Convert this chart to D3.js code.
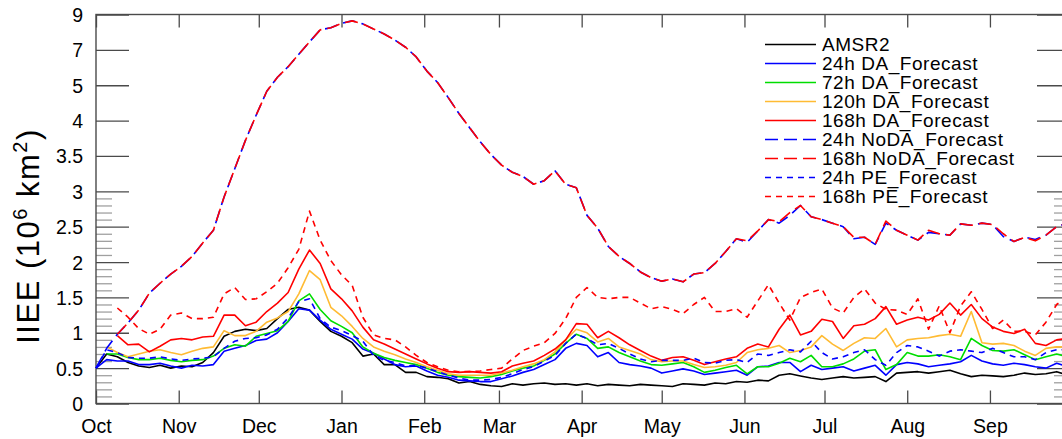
<!DOCTYPE html>
<html>
<head>
<meta charset="utf-8">
<script src="https://cdn.jsdelivr.net/npm/d3@7"></script>
<style>
  body { margin: 0; background: #fff; }
  svg { display: block; }
  text { font-family: "Liberation Sans", Arial, Helvetica, sans-serif; fill: #000; }
</style>
</head>
<body>
<svg id="chart" width="1062" height="439"></svg>
<script>
// Daily sample index (days after 1 October), one value every 4 days
const dayIndex = d3.range(0, 365, 4);

// IIEE (10^6 km^2) per series
const amsr2 = [
  0.50,0.70,0.66,0.58,0.53,0.51,0.54,0.50,0.53,0.52,
  0.58,0.72,0.95,1.02,1.05,1.03,1.06,1.20,1.33,1.36,
  1.32,1.16,1.02,0.95,0.86,0.67,0.70,0.55,0.55,0.44,
  0.44,0.38,0.37,0.35,0.29,0.31,0.27,0.25,0.24,0.28,
  0.26,0.28,0.29,0.27,0.28,0.26,0.28,0.25,0.27,0.26,
  0.25,0.27,0.26,0.25,0.24,0.28,0.27,0.26,0.29,0.28,
  0.31,0.30,0.33,0.32,0.40,0.42,0.39,0.36,0.34,0.36,
  0.38,0.36,0.37,0.38,0.31,0.43,0.44,0.45,0.43,0.45,
  0.47,0.42,0.38,0.40,0.39,0.38,0.40,0.43,0.41,0.42,
  0.45,0.40];

const da24 = [
  0.50,0.62,0.60,0.60,0.55,0.55,0.57,0.53,0.50,0.54,
  0.53,0.55,0.74,0.78,0.82,0.89,0.91,1.00,1.16,1.34,
  1.32,1.18,1.05,0.98,0.91,0.77,0.71,0.63,0.55,0.52,
  0.53,0.46,0.40,0.37,0.33,0.32,0.31,0.31,0.35,0.39,
  0.44,0.48,0.55,0.62,0.78,0.85,0.82,0.66,0.72,0.58,
  0.55,0.53,0.50,0.43,0.46,0.49,0.46,0.41,0.43,0.45,
  0.47,0.40,0.52,0.53,0.58,0.58,0.45,0.54,0.48,0.50,
  0.52,0.46,0.50,0.54,0.40,0.55,0.58,0.56,0.52,0.54,
  0.56,0.59,0.68,0.60,0.56,0.54,0.57,0.55,0.52,0.50,
  0.57,0.52];

const da72 = [
  null,0.70,0.70,0.65,0.62,0.62,0.64,0.61,0.59,0.61,
  0.62,0.67,0.78,0.83,0.81,0.95,0.99,1.03,1.16,1.45,
  1.55,1.33,1.17,1.09,1.00,0.80,0.71,0.65,0.61,0.58,
  0.55,0.50,0.44,0.40,0.38,0.37,0.36,0.38,0.41,0.46,
  0.50,0.53,0.61,0.70,0.85,0.98,0.92,0.78,0.80,0.72,
  0.66,0.60,0.55,0.54,0.56,0.58,0.52,0.44,0.47,0.51,
  0.54,0.42,0.52,0.52,0.57,0.64,0.59,0.68,0.52,0.52,
  0.56,0.63,0.74,0.76,0.48,0.55,0.72,0.67,0.67,0.69,
  0.66,0.62,0.92,0.82,0.75,0.74,0.76,0.69,0.62,0.66,
  0.70,0.66];

const da120 = [
  null,0.80,0.72,0.66,0.70,0.74,0.76,0.72,0.69,0.74,
  0.78,0.80,1.03,0.96,0.96,1.02,1.15,1.21,1.30,1.55,
  1.88,1.75,1.36,1.24,1.09,0.92,0.80,0.74,0.69,0.63,
  0.58,0.52,0.47,0.42,0.40,0.40,0.40,0.40,0.43,0.47,
  0.52,0.56,0.62,0.73,0.90,1.05,1.00,0.87,0.92,0.80,
  0.75,0.70,0.62,0.59,0.60,0.60,0.55,0.51,0.52,0.54,
  0.58,0.72,0.76,0.78,0.82,0.72,0.75,0.80,0.96,0.84,
  0.75,0.85,0.93,0.92,1.06,0.80,0.90,0.92,0.93,0.96,
  0.98,0.95,1.30,0.86,0.84,0.85,0.82,0.74,0.68,0.78,
  0.80,0.80];

const da168 = [
  null,null,0.96,0.83,0.84,0.73,0.81,0.90,0.92,0.90,
  0.94,0.95,1.25,1.25,1.10,1.15,1.30,1.42,1.57,1.90,
  2.17,1.98,1.62,1.48,1.31,1.08,0.90,0.84,0.77,0.70,
  0.63,0.56,0.50,0.45,0.44,0.45,0.44,0.43,0.45,0.53,
  0.57,0.60,0.68,0.77,0.90,1.13,1.12,0.93,1.02,0.93,
  0.83,0.75,0.67,0.61,0.65,0.66,0.61,0.55,0.59,0.63,
  0.66,0.78,0.84,0.80,1.05,1.25,0.97,1.02,1.19,1.16,
  0.92,1.10,1.12,1.20,1.37,1.12,1.18,1.22,1.18,1.26,
  1.42,1.25,1.40,1.20,1.08,1.02,0.99,1.05,0.85,0.82,
  0.90,0.92];

const noda24 = [
  0.50,0.78,0.98,1.14,1.32,1.56,1.70,1.83,1.94,2.08,
  2.27,2.45,2.92,3.32,3.72,4.15,4.83,5.45,6.05,6.75,
  7.45,8.13,8.25,8.50,8.64,8.47,8.18,7.90,7.55,7.15,
  6.60,5.80,5.15,4.65,4.20,3.90,3.70,3.52,3.37,3.27,
  3.21,3.10,3.15,3.29,3.10,3.05,2.66,2.48,2.22,2.08,
  1.98,1.86,1.78,1.73,1.76,1.72,1.83,1.85,1.98,2.15,
  2.33,2.28,2.44,2.60,2.55,2.66,2.80,2.64,2.60,2.55,
  2.50,2.33,2.35,2.25,2.55,2.45,2.38,2.31,2.42,2.40,
  2.38,2.54,2.52,2.55,2.53,2.36,2.29,2.35,2.32,2.38,
  2.50,2.55];

const noda168 = [
  null,null,0.98,1.14,1.32,1.56,1.70,1.83,1.94,2.08,
  2.27,2.45,2.92,3.32,3.72,4.15,4.83,5.45,6.05,6.75,
  7.45,8.13,8.25,8.50,8.64,8.47,8.18,7.90,7.55,7.15,
  6.60,5.80,5.15,4.65,4.20,3.90,3.70,3.52,3.37,3.27,
  3.21,3.10,3.15,3.29,3.10,3.05,2.66,2.48,2.22,2.08,
  1.98,1.86,1.78,1.73,1.76,1.72,1.83,1.85,1.98,2.15,
  2.33,2.30,2.44,2.60,2.57,2.70,2.80,2.64,2.60,2.55,
  2.50,2.35,2.35,2.25,2.58,2.45,2.38,2.31,2.45,2.40,
  2.38,2.54,2.52,2.55,2.53,2.40,2.29,2.35,2.30,2.38,
  2.50,2.55];

const pe24 = [
  0.50,0.76,0.72,0.65,0.64,0.64,0.66,0.63,0.61,0.63,
  0.64,0.66,0.78,0.88,0.92,0.93,0.97,1.05,1.21,1.44,
  1.48,1.20,1.08,1.03,0.96,0.88,0.68,0.61,0.58,0.53,
  0.54,0.50,0.45,0.40,0.36,0.33,0.33,0.34,0.37,0.42,
  0.48,0.52,0.60,0.68,0.85,0.98,0.92,0.83,0.85,0.78,
  0.70,0.63,0.59,0.61,0.61,0.61,0.64,0.58,0.57,0.61,
  0.62,0.58,0.70,0.68,0.72,0.76,0.73,0.88,0.72,0.63,
  0.66,0.72,0.76,0.62,0.54,0.72,0.82,0.80,0.74,0.67,
  0.74,0.76,0.74,0.72,0.78,0.72,0.66,0.66,0.62,0.72,
  0.76,0.76];

const pe168 = [
  null,null,1.35,1.22,1.06,0.98,1.05,1.25,1.28,1.20,
  1.20,1.22,1.55,1.64,1.47,1.48,1.58,1.70,1.92,2.18,
  2.72,2.31,2.02,1.82,1.67,1.22,0.97,0.92,0.90,0.80,
  0.68,0.58,0.52,0.47,0.45,0.45,0.46,0.48,0.50,0.63,
  0.75,0.81,0.86,0.99,1.20,1.50,1.64,1.50,1.48,1.50,
  1.50,1.42,1.34,1.37,1.33,1.27,1.40,1.50,1.30,1.30,
  1.34,1.22,1.45,1.68,1.42,1.18,1.50,1.57,1.62,1.35,
  1.28,1.50,1.62,1.42,1.33,1.32,1.26,1.48,1.05,1.38,
  1.00,1.38,1.58,1.33,1.06,1.18,1.02,1.02,0.97,1.15,
  1.40,1.50];

const seriesNames = ["AMSR2", "24h DA_Forecast", "72h DA_Forecast", "120h DA_Forecast",
  "168h DA_Forecast", "24h NoDA_Forecast", "168h NoDA_Forecast", "24h PE_Forecast", "168h PE_Forecast"];
const seriesValues = [amsr2, da24, da72, da120, da168, noda24, noda168, pe24, pe168];
const seriesColors = ["#000000", "#0000ff", "#00dd00", "#ffbb33", "#ff0000", "#0000ff", "#ff0000", "#0000ff", "#ff0000"];
const seriesDash = [null, null, null, null, null, "13,6", "13,6", "6,5", "6,5"];

const monthLabels = ["Oct","Nov","Dec","Jan","Feb","Mar","Apr","May","Jun","Jul","Aug","Sep"];
const yTicks = [0, 0.5, 1, 1.5, 2, 2.5, 3, 3.5, 4, 5, 7, 9];
const yTickLabels = ["0","0.5","1","1.5","2","2.5","3","3.5","4","5","7","9"];
const yMinor = d3.range(1, 30).filter(i => i % 5 !== 0).map(i => i / 10);

// ---- layout ----
const plotLeft = 96, plotRight = 1070, plotTop = 14.5, plotBottom = 403.5;
const startDate = new Date(Date.UTC(2018, 9, 1));
const endDate = new Date(Date.UTC(2019, 9, 1));
const dayToDate = d => d3.utcDay.offset(startDate, d);

const x = d3.scaleUtc().domain([startDate, endDate]).range([plotLeft, plotRight]);
// piecewise scale: each labelled tick takes an equal vertical step
const yStep = (plotBottom - plotTop) / (yTicks.length - 1);
const y = d3.scaleLinear().domain(yTicks).range(yTicks.map((d, i) => plotBottom - i * yStep));

const svg = d3.select("#chart");
const monthTicks = d3.utcMonth.range(startDate, endDate);

const axisColor = "#4a4a4a";
const minorColor = "#a0a0a0";
const labelSize = 19.5;

function styleAxis(g, color) {
  g.select(".domain").remove();
  g.selectAll(".tick line").attr("stroke", color).attr("stroke-width", 1.3);
  g.selectAll(".tick text").attr("font-size", labelSize).attr("fill", "#000");
}

// minor y ticks (left and right)
svg.append("g").attr("transform", `translate(${plotLeft},0)`)
  .call(d3.axisLeft(y).tickValues(yMinor).tickSize(-16).tickFormat(""))
  .call(g => styleAxis(g, minorColor));
svg.append("g").attr("transform", `translate(${plotRight},0)`)
  .call(d3.axisRight(y).tickValues(yMinor).tickSize(-16).tickFormat(""))
  .call(g => styleAxis(g, minorColor));

// major y ticks
svg.append("g").attr("transform", `translate(${plotLeft},0)`)
  .call(d3.axisLeft(y).tickValues(yTicks).tickSize(-33).tickPadding(13)
    .tickFormat((d, i) => yTickLabels[i]))
  .call(g => styleAxis(g, axisColor))
  .call(g => g.selectAll(".tick text").attr("dy", "0.36em"));
svg.append("g").attr("transform", `translate(${plotRight},0)`)
  .call(d3.axisRight(y).tickValues(yTicks).tickSize(-33).tickFormat(""))
  .call(g => styleAxis(g, axisColor));

// x ticks (bottom with labels, top mirrored)
svg.append("g").attr("transform", `translate(0,${plotBottom})`)
  .call(d3.axisBottom(x).tickValues(monthTicks).tickSize(-13).tickPadding(16)
    .tickFormat((d, i) => monthLabels[i]))
  .call(g => styleAxis(g, axisColor));
svg.append("g").attr("transform", `translate(0,${plotTop})`)
  .call(d3.axisTop(x).tickValues(monthTicks).tickSize(-13).tickFormat(""))
  .call(g => styleAxis(g, axisColor));

// frame
svg.append("rect")
  .attr("x", plotLeft).attr("y", plotTop)
  .attr("width", plotRight - plotLeft).attr("height", plotBottom - plotTop)
  .attr("fill", "none").attr("stroke", axisColor).attr("stroke-width", 1.4);

// data lines
const line = d3.line()
  .defined(d => d.v != null)
  .x(d => x(dayToDate(d.day)))
  .y(d => y(d.v));

seriesValues.forEach((vals, k) => {
  const pts = dayIndex.map((day, i) => ({ day, v: vals[i] }));
  svg.append("path")
    .datum(pts)
    .attr("d", line)
    .attr("fill", "none")
    .attr("stroke", seriesColors[k])
    .attr("stroke-width", 1.6)
    .attr("stroke-linejoin", "round")
    .attr("stroke-dasharray", seriesDash[k]);
});

// legend
const legend = svg.append("g").attr("transform", "translate(765,44.5)");
seriesNames.forEach((name, k) => {
  const row = legend.append("g").attr("transform", `translate(0,${k * 19})`);
  row.append("line")
    .attr("x1", 0).attr("x2", 51).attr("y1", 0).attr("y2", 0)
    .attr("stroke", seriesColors[k]).attr("stroke-width", 1.6)
    .attr("stroke-dasharray", seriesDash[k]);
  row.append("text")
    .attr("x", 57).attr("y", 6.8)
    .attr("font-size", 19)
    .attr("letter-spacing", 0.55)
    .text(name);
});

// y-axis title
const title = svg.append("text")
  .attr("transform", "translate(39,236) rotate(-90)")
  .attr("text-anchor", "middle")
  .attr("font-size", 31)
  .attr("letter-spacing", 1.5);
title.append("tspan").text("IIEE (10");
title.append("tspan").attr("font-size", 20).attr("dy", -12).text("6");
title.append("tspan").attr("dy", 12).text(" km");
title.append("tspan").attr("font-size", 20).attr("dy", -12).text("2");
title.append("tspan").attr("dy", 12).text(")");
</script>
</body>
</html>
